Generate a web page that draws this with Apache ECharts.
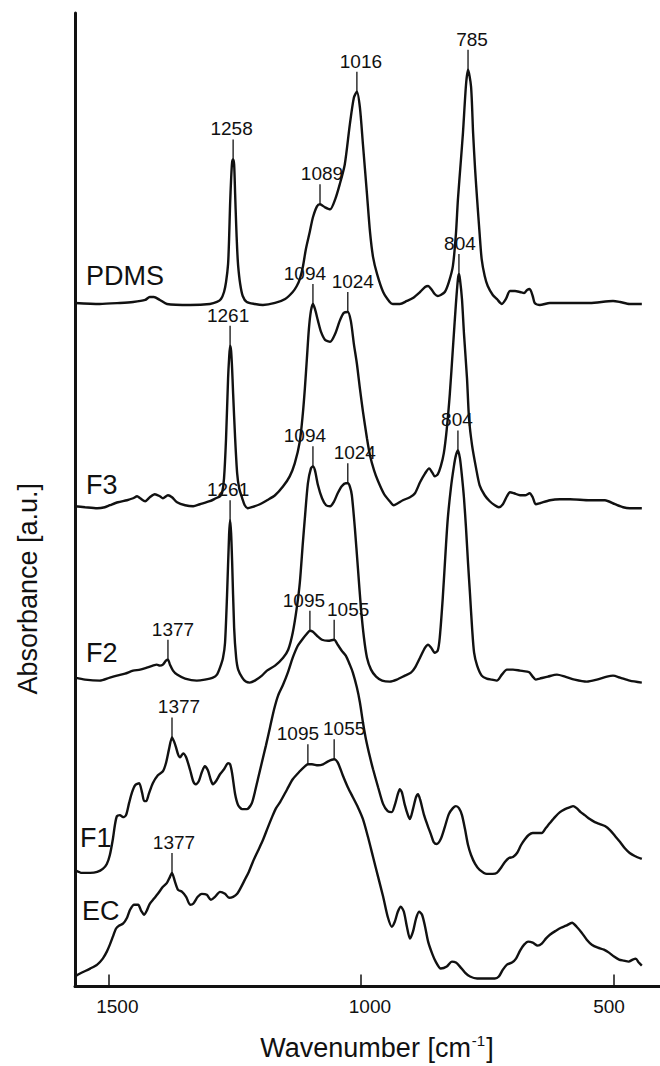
<!DOCTYPE html>
<html>
<head>
<meta charset="utf-8">
<script src="https://cdn.jsdelivr.net/npm/echarts@6/dist/echarts.min.js"></script>
<style>
  html, body { margin: 0; padding: 0; background: #fff; }
  #chart { width: 660px; height: 1066px; }
</style>
</head>
<body>
<div id="chart"></div>
<script>
// ---- DATA (wavenumber [cm-1], absorbance [a.u., stacked with offsets]) ----
const xTicks = [500, 1000, 1500];

const pdms = [[1566,6.86],[1517,6.85],[1477,6.86],[1451,6.87],[1427,6.89],[1418,6.92],[1410,6.92],[1398,6.89],[1384,6.85],[1338,6.84],[1299,6.85],[1285,6.87],[1277,6.90],[1271,6.97],[1267,7.07],[1263,7.25],[1261,7.50],[1259,7.85],[1257,8.10],[1255,8.27],[1253,8.30],[1251,8.25],[1249,7.95],[1247,7.65],[1245,7.40],[1243,7.23],[1239,7.05],[1234,6.93],[1226,6.87],[1210,6.85],[1194,6.84],[1170,6.86],[1150,6.90],[1135,6.97],[1127,7.03],[1121,7.10],[1115,7.22],[1109,7.40],[1101,7.58],[1095,7.72],[1087,7.83],[1081,7.85],[1071,7.82],[1061,7.80],[1051,7.90],[1042,8.05],[1032,8.25],[1022,8.65],[1014,8.92],[1008,8.98],[1002,8.82],[996,8.45],[988,7.95],[982,7.57],[976,7.32],[968,7.15],[956,6.97],[943,6.87],[937,6.85],[923,6.85],[909,6.88],[897,6.91],[883,6.97],[873,7.02],[867,7.03],[861,7.00],[854,6.95],[848,6.93],[842,6.94],[834,6.97],[826,7.07],[818,7.23],[812,7.55],[808,7.90],[802,8.30],[798,8.57],[792,9.05],[788,9.20],[782,9.03],[778,8.57],[774,8.20],[770,7.90],[765,7.55],[761,7.30],[755,7.13],[749,7.03],[739,6.94],[731,6.90],[721,6.85],[713,6.90],[705,6.98],[695,6.98],[685,6.97],[677,6.96],[671,6.99],[666,7.00],[660,6.93],[656,6.86],[646,6.84],[626,6.86],[586,6.86],[547,6.86],[501,6.88],[487,6.87],[468,6.85],[444,6.85]];

const f3 = [[1566,4.82],[1546,4.81],[1522,4.80],[1507,4.81],[1497,4.83],[1481,4.86],[1463,4.88],[1451,4.90],[1443,4.92],[1437,4.90],[1427,4.87],[1418,4.91],[1408,4.94],[1398,4.92],[1392,4.90],[1382,4.93],[1374,4.91],[1364,4.86],[1348,4.83],[1332,4.82],[1319,4.84],[1299,4.87],[1287,4.90],[1279,4.92],[1275,4.95],[1271,5.10],[1267,5.50],[1263,6.10],[1261,6.30],[1259,6.43],[1257,6.38],[1255,6.20],[1253,5.95],[1249,5.50],[1245,5.15],[1241,5.00],[1235,4.90],[1230,4.83],[1224,4.80],[1216,4.81],[1200,4.84],[1186,4.88],[1170,4.93],[1154,5.02],[1141,5.12],[1131,5.25],[1121,5.47],[1115,5.75],[1111,6.00],[1107,6.30],[1103,6.60],[1099,6.78],[1095,6.85],[1091,6.80],[1085,6.68],[1079,6.57],[1071,6.49],[1061,6.47],[1051,6.55],[1042,6.68],[1034,6.76],[1026,6.77],[1020,6.68],[1014,6.45],[1008,6.25],[1002,6.00],[996,5.77],[988,5.50],[982,5.33],[974,5.18],[966,5.07],[954,4.94],[943,4.87],[935,4.83],[927,4.85],[917,4.88],[903,4.91],[893,4.95],[883,5.06],[873,5.15],[865,5.20],[859,5.16],[854,5.12],[848,5.14],[842,5.22],[836,5.35],[830,5.60],[824,5.95],[818,6.40],[812,6.85],[808,7.10],[806,7.15],[804,7.10],[800,6.90],[796,6.55],[790,6.10],[786,5.70],[780,5.43],[772,5.20],[765,5.03],[755,4.93],[745,4.87],[735,4.83],[727,4.81],[719,4.84],[711,4.92],[705,4.96],[697,4.95],[685,4.93],[675,4.93],[666,4.95],[660,4.91],[654,4.84],[646,4.85],[626,4.88],[606,4.89],[586,4.89],[547,4.88],[517,4.88],[497,4.84],[481,4.81],[468,4.80],[444,4.80]];

const f2 = [[1566,3.10],[1546,3.08],[1517,3.07],[1497,3.10],[1483,3.12],[1467,3.14],[1451,3.17],[1437,3.18],[1424,3.20],[1412,3.22],[1404,3.23],[1398,3.22],[1392,3.23],[1386,3.27],[1382,3.28],[1378,3.23],[1372,3.17],[1364,3.13],[1348,3.09],[1325,3.07],[1309,3.08],[1293,3.10],[1285,3.13],[1279,3.20],[1273,3.30],[1269,3.45],[1265,3.93],[1261,4.53],[1259,4.68],[1257,4.55],[1255,4.27],[1251,3.60],[1247,3.30],[1243,3.18],[1235,3.10],[1228,3.06],[1220,3.05],[1210,3.07],[1196,3.12],[1186,3.17],[1170,3.22],[1154,3.30],[1144,3.38],[1135,3.55],[1127,3.80],[1121,4.05],[1115,4.45],[1111,4.70],[1105,5.05],[1099,5.20],[1095,5.22],[1091,5.18],[1085,5.03],[1077,4.90],[1069,4.83],[1061,4.82],[1053,4.87],[1046,4.95],[1038,5.02],[1030,5.05],[1026,5.05],[1022,5.02],[1018,4.93],[1012,4.60],[1006,4.20],[1000,3.80],[994,3.50],[988,3.30],[980,3.18],[970,3.11],[958,3.07],[943,3.06],[929,3.08],[913,3.12],[901,3.15],[893,3.20],[883,3.30],[873,3.40],[867,3.43],[861,3.40],[854,3.35],[848,3.37],[844,3.50],[838,3.90],[832,4.40],[828,4.70],[822,5.00],[816,5.22],[812,5.33],[808,5.38],[804,5.30],[800,5.12],[796,4.90],[792,4.60],[788,4.25],[784,3.93],[780,3.60],[776,3.35],[770,3.22],[761,3.12],[751,3.09],[741,3.08],[731,3.07],[721,3.13],[711,3.18],[699,3.18],[685,3.17],[671,3.16],[666,3.15],[660,3.11],[654,3.08],[646,3.09],[630,3.11],[612,3.13],[596,3.11],[577,3.08],[553,3.06],[533,3.08],[513,3.11],[501,3.12],[487,3.10],[468,3.07],[444,3.05]];

const f1 = [[1566,1.17],[1552,1.14],[1536,1.14],[1522,1.15],[1511,1.18],[1503,1.23],[1497,1.32],[1491,1.48],[1487,1.62],[1483,1.71],[1477,1.72],[1471,1.70],[1465,1.72],[1459,1.84],[1453,1.95],[1447,2.02],[1439,2.04],[1433,1.94],[1429,1.86],[1425,1.86],[1420,1.93],[1412,2.04],[1402,2.12],[1392,2.16],[1386,2.24],[1380,2.38],[1374,2.50],[1370,2.46],[1366,2.40],[1362,2.33],[1358,2.30],[1352,2.34],[1346,2.30],[1338,2.17],[1332,2.06],[1327,2.03],[1321,2.06],[1315,2.15],[1309,2.21],[1303,2.17],[1297,2.07],[1293,2.03],[1287,2.06],[1279,2.13],[1271,2.18],[1263,2.24],[1259,2.23],[1255,2.14],[1249,1.93],[1243,1.82],[1235,1.78],[1226,1.78],[1216,1.84],[1210,1.95],[1204,2.08],[1196,2.25],[1188,2.42],[1180,2.60],[1172,2.78],[1164,2.92],[1154,3.03],[1144,3.16],[1135,3.30],[1125,3.42],[1115,3.49],[1107,3.54],[1101,3.57],[1095,3.56],[1087,3.52],[1077,3.48],[1065,3.47],[1053,3.48],[1046,3.43],[1038,3.37],[1030,3.32],[1022,3.23],[1016,3.15],[1008,3.00],[1002,2.85],[996,2.65],[990,2.48],[982,2.30],[976,2.18],[966,2.00],[956,1.83],[947,1.76],[939,1.75],[933,1.82],[927,1.93],[923,1.98],[919,1.95],[913,1.82],[907,1.72],[903,1.68],[897,1.78],[891,1.90],[887,1.93],[883,1.88],[875,1.72],[869,1.63],[861,1.52],[856,1.45],[850,1.43],[842,1.48],[834,1.60],[826,1.73],[818,1.79],[812,1.81],[806,1.79],[800,1.72],[794,1.58],[788,1.42],[782,1.32],[774,1.23],[765,1.17],[751,1.13],[739,1.13],[731,1.14],[723,1.19],[715,1.25],[707,1.29],[699,1.30],[691,1.34],[683,1.42],[675,1.48],[668,1.52],[660,1.54],[650,1.54],[642,1.54],[634,1.59],[626,1.64],[616,1.70],[606,1.75],[596,1.78],[586,1.80],[580,1.81],[573,1.79],[565,1.75],[557,1.72],[547,1.68],[537,1.65],[527,1.63],[517,1.61],[507,1.57],[497,1.51],[487,1.45],[478,1.39],[468,1.34],[458,1.31],[444,1.28]];

const ec = [[1566,0.10],[1556,0.13],[1536,0.18],[1522,0.22],[1511,0.28],[1503,0.35],[1497,0.42],[1491,0.50],[1485,0.58],[1479,0.61],[1471,0.63],[1463,0.69],[1457,0.77],[1449,0.82],[1441,0.82],[1435,0.76],[1429,0.72],[1424,0.76],[1418,0.83],[1410,0.88],[1402,0.93],[1392,1.00],[1384,1.04],[1378,1.10],[1374,1.14],[1368,1.05],[1362,0.97],[1354,0.95],[1346,0.90],[1338,0.82],[1332,0.83],[1323,0.90],[1315,0.93],[1305,0.92],[1297,0.87],[1289,0.90],[1279,0.95],[1269,0.93],[1261,0.89],[1253,0.90],[1245,0.93],[1237,1.00],[1230,1.07],[1222,1.15],[1214,1.25],[1204,1.36],[1194,1.47],[1184,1.60],[1176,1.70],[1168,1.79],[1160,1.85],[1146,1.98],[1135,2.08],[1121,2.16],[1111,2.21],[1105,2.23],[1097,2.23],[1085,2.22],[1075,2.23],[1065,2.26],[1053,2.28],[1046,2.25],[1036,2.12],[1026,2.00],[1016,1.90],[1006,1.80],[996,1.68],[986,1.50],[976,1.30],[966,1.10],[956,0.90],[947,0.70],[939,0.60],[933,0.65],[927,0.75],[921,0.80],[915,0.75],[909,0.60],[903,0.48],[897,0.55],[891,0.68],[885,0.75],[879,0.72],[873,0.60],[867,0.45],[859,0.33],[852,0.25],[842,0.18],[830,0.20],[820,0.25],[812,0.24],[804,0.20],[794,0.14],[784,0.10],[770,0.08],[751,0.08],[735,0.08],[727,0.10],[719,0.17],[711,0.22],[701,0.24],[693,0.28],[685,0.36],[677,0.42],[669,0.45],[660,0.44],[650,0.41],[642,0.43],[634,0.48],[626,0.52],[614,0.56],[604,0.59],[594,0.61],[582,0.64],[573,0.60],[563,0.54],[553,0.47],[543,0.42],[531,0.39],[519,0.37],[509,0.34],[499,0.30],[489,0.27],[480,0.26],[470,0.25],[462,0.27],[456,0.28],[450,0.24],[444,0.21]];

// peak annotations: [label, wavenumber of marker, absorbance at peak]
const pdmsPeaks = [['1258',1253,8.30],['1089',1081,7.85],['1016',1008,8.98],['785',788,9.20]];
const f3Peaks   = [['1261',1259,6.43],['1094',1095,6.85],['1024',1026,6.77],['804',806,7.15]];
const f2Peaks   = [['1377',1382,3.28],['1261',1259,4.68],['1094',1095,5.22],['1024',1026,5.05],['804',808,5.38]];
const f1Peaks   = [['1377',1374,2.50],['1095',1101,3.57],['1055',1053,3.48]];
const ecPeaks   = [['1377',1374,1.14],['1095',1105,2.23],['1055',1053,2.28]];

const seriesNames = ['PDMS', 'F3', 'F2', 'F1', 'EC'];

// ---- LAYOUT (pixel shifts only) ----
const peakLabelShift = {
  PDMS: [-1.5, 2, 4, 4],
  F3: [-2, -8, 5, 1],
  F2: [5, -2, -8, 7, -1],
  F1: [7, -6, 14],
  EC: [2, -10, 10]
};
const nameLabelOffset = {
  PDMS: [11, -27], F3: [11, -21], F2: [11, -25], F1: [5, -32], EC: [7, -66]
};

const FONT = '"Liberation Sans", Arial, Helvetica, sans-serif';
const INK = '#111';
const STICK = 20;

const traces = { PDMS: pdms, F3: f3, F2: f2, F1: f1, EC: ec };
const peaks = { PDMS: pdmsPeaks, F3: f3Peaks, F2: f2Peaks, F1: f1Peaks, EC: ecPeaks };

const chart = echarts.init(document.getElementById('chart'), null, { renderer: 'svg' });

const series = [];
seriesNames.forEach(function (name) {
  const d = traces[name];
  series.push({
    name: name,
    type: 'line',
    data: d,
    showSymbol: false,
    smooth: 0.25,
    lineStyle: { color: INK, width: 2.4 },
    itemStyle: { color: INK },
    silent: true,
    z: 2,
    markPoint: {
      silent: true,
      symbol: 'circle',
      symbolSize: 0,
      itemStyle: { color: 'transparent' },
      data: [{
        coord: d[0],
        label: {
          show: true,
          formatter: name,
          position: 'right',
          distance: 0,
          offset: nameLabelOffset[name],
          fontSize: 27,
          fontFamily: FONT,
          color: INK
        }
      }]
    }
  });
});

seriesNames.forEach(function (name) {
  const list = peaks[name];
  const shifts = peakLabelShift[name];
  series.push({
    name: name + ' peaks',
    type: 'custom',
    coordinateSystem: 'cartesian2d',
    silent: true,
    clip: false,
    z: 3,
    data: list.map(function (p) { return [p[1], p[2]]; }),
    encode: { x: 0, y: 1 },
    renderItem: function (params, api) {
      const pt = api.coord([api.value(0), api.value(1)]);
      const i = params.dataIndex;
      return {
        type: 'group',
        children: [
          {
            type: 'line',
            shape: { x1: pt[0], y1: pt[1], x2: pt[0], y2: pt[1] - STICK },
            style: { stroke: INK, lineWidth: 1.3 }
          },
          {
            type: 'text',
            x: pt[0] + shifts[i],
            y: pt[1] - STICK - 1,
            style: {
              text: list[i][0],
              fill: INK,
              fontSize: 19,
              fontFamily: FONT,
              align: 'center',
              verticalAlign: 'bottom',
              textAlign: 'center',
              textVerticalAlign: 'bottom'
            }
          }
        ]
      };
    }
  });
});

chart.setOption({
  animation: false,
  backgroundColor: '#fff',
  grid: { left: 75, right: 0, top: 13, bottom: 76, containLabel: false },
  xAxis: {
    type: 'value',
    inverse: true,
    min: 408,
    max: 1566,
    name: '{a|Wavenumber [cm}{s|-1}{a|]}',
    nameLocation: 'middle',
    nameGap: 46,
    nameTextStyle: {
      fontSize: 27,
      fontFamily: FONT,
      color: INK,
      padding: [0, 0, 0, 19],
      rich: {
        a: { fontSize: 27, fontFamily: FONT, color: INK, lineHeight: 30 },
        s: { fontSize: 15, fontFamily: FONT, color: INK, verticalAlign: 'top', lineHeight: 30, padding: [0, 1, 0, 1] }
      }
    },
    axisLine: { show: true, onZero: false, lineStyle: { color: INK, width: 3 } },
    axisTick: { show: true, inside: true, length: 12, customValues: xTicks, lineStyle: { color: INK, width: 1.5 } },
    axisLabel: {
      show: true,
      customValues: xTicks,
      fontSize: 19,
      fontFamily: FONT,
      color: INK,
      margin: 10,
      formatter: function (v) {
        return v === 500 ? '{l|' + v + '}' : '{r|' + v + '}';
      },
      rich: {
        r: { fontSize: 19, fontFamily: FONT, color: INK, padding: [0, 0, 0, 18] },
        l: { fontSize: 19, fontFamily: FONT, color: INK, padding: [0, 9, 0, 0] }
      }
    },
    splitLine: { show: false }
  },
  yAxis: {
    type: 'value',
    min: 0,
    max: 9.77,
    name: 'Absorbance [a.u.]',
    nameLocation: 'middle',
    nameGap: 34,
    nameTextStyle: { fontSize: 27, fontFamily: FONT, color: INK, padding: [0, 178, 0, 0] },
    axisLine: { show: true, onZero: false, lineStyle: { color: INK, width: 3 } },
    axisTick: { show: false },
    axisLabel: { show: false },
    splitLine: { show: false }
  },
  series: series
});
</script>
</body>
</html>
